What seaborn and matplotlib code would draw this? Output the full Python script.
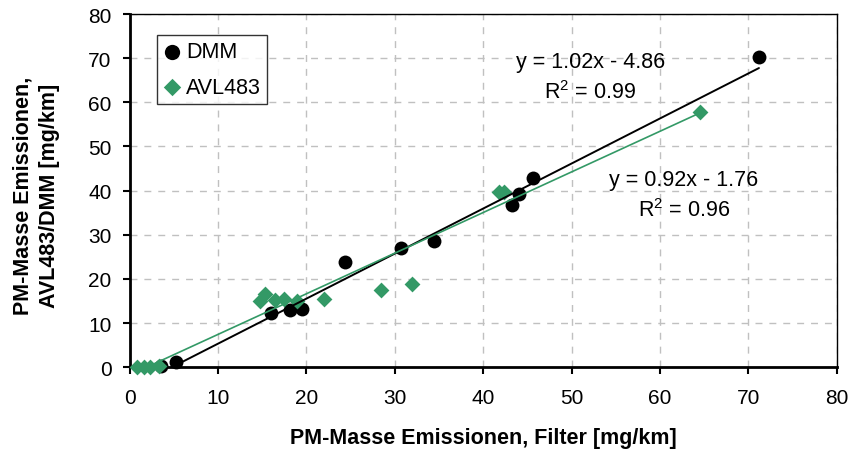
import pandas as pd
import matplotlib
matplotlib.use("Agg")
import matplotlib.pyplot as plt
import seaborn as sns

dmm_filter = [3.6, 5.2, 16.0, 18.2, 19.5, 24.4, 30.7, 34.4, 43.3, 44.1, 45.6, 71.2]
dmm_value = [0.2, 1.1, 12.3, 13.0, 13.3, 23.9, 26.9, 28.5, 36.8, 39.3, 42.8, 70.3]

avl_filter = [0.8, 1.6, 2.3, 3.3, 14.8, 15.3, 16.5, 17.5, 18.9, 22.0, 28.4, 32.0, 41.8, 42.4, 64.5]
avl_value = [0.1, 0.1, 0.1, 0.4, 14.9, 16.6, 15.2, 15.5, 15.1, 15.5, 17.6, 18.9, 39.6, 39.8, 57.9]

# Trendlinien (Excel)
dmm_fit = (1.02, -4.86, 0.99)
avl_fit = (0.92, -1.76, 0.96)

GREEN = "#339966"

sns.set_theme(style="white")
plt.rcParams['font.family'] = ['Liberation Sans', 'DejaVu Sans']
plt.rcParams['text.color'] = 'black'
plt.rcParams['axes.labelcolor'] = 'black'

df_dmm = pd.DataFrame({'Filter': dmm_filter, 'Wert': dmm_value})
df_avl = pd.DataFrame({'Filter': avl_filter, 'Wert': avl_value})


def fit_line(df, fit):
    xs = [df['Filter'].min(), df['Filter'].max()]
    return pd.DataFrame({'Filter': xs, 'Wert': [fit[0] * x + fit[1] for x in xs]})


def fit_text(fit):
    return f'y = {fit[0]:.2f}x - {abs(fit[1]):.2f}\n' + r'$\mathregular{R^2}$' + f' = {fit[2]:.2f}'


fig = plt.figure(figsize=(8.5, 4.52), dpi=100)
ax = fig.add_axes([0.1524, 0.1852, 0.8320, 0.7816])

sns.scatterplot(data=df_dmm, x='Filter', y='Wert', ax=ax, color='black', marker='o',
                s=100, edgecolor='black', linewidth=0, label='DMM', zorder=3, clip_on=False)
sns.scatterplot(data=df_avl, x='Filter', y='Wert', ax=ax, color=GREEN, marker='D',
                s=65, edgecolor=GREEN, linewidth=0, label='AVL483', zorder=3, clip_on=False)
sns.lineplot(data=fit_line(df_dmm, dmm_fit), x='Filter', y='Wert', ax=ax,
             color='black', linewidth=1.4, zorder=4, legend=False)
sns.lineplot(data=fit_line(df_avl, avl_fit), x='Filter', y='Wert', ax=ax,
             color=GREEN, linewidth=1.2, zorder=4, legend=False)

ax.text(52.1, 65.7, fit_text(dmm_fit), ha='center', va='center', fontsize=15.5, linespacing=1.45)
ax.text(62.7, 39.0, fit_text(avl_fit), ha='center', va='center', fontsize=15.5, linespacing=1.45)

ax.set_xlim(0, 80)
ax.set_ylim(0, 80)
ax.set_xticks(range(0, 81, 10))
ax.set_yticks(range(0, 81, 10))
ax.grid(True, linestyle=(0, (5, 5)), color='#c0c0c0', linewidth=1)
ax.set_axisbelow(True)

for side in ['left', 'bottom']:
    ax.spines[side].set_linewidth(2)
for side in ['top', 'right']:
    ax.spines[side].set_linewidth(1)
for sp in ax.spines.values():
    sp.set_color('black')

ax.tick_params(axis='both', which='major', direction='out', length=5, width=1.5,
               labelsize=15, color='black', labelcolor='black',
               bottom=True, left=True)
ax.tick_params(axis='x', pad=10)
ax.tick_params(axis='y', pad=8)

ax.set_xlabel('PM-Masse Emissionen, Filter [mg/km]', fontsize=15.5, fontweight='bold')
ax.set_ylabel('PM-Masse Emissionen,\nAVL483/DMM [mg/km]', fontsize=15.5, fontweight='bold',
              linespacing=1.3)
ax.xaxis.label.set_va('center')
ax.xaxis.set_label_coords(0.5, -0.200)
ax.yaxis.label.set_va('center')
ax.yaxis.label.set_ha('center')
ax.yaxis.set_label_coords(-0.132, 0.488)

leg = ax.legend(loc='upper left', bbox_to_anchor=(0.039, 0.9406), borderaxespad=0,
                fontsize=15.5, frameon=True, fancybox=False, edgecolor='black',
                borderpad=0.3, handletextpad=0.28, handlelength=0.76, labelspacing=0.67,
                markerscale=1.1)
leg.get_frame().set_linewidth(1)

fig.savefig('out.png', dpi=100)
